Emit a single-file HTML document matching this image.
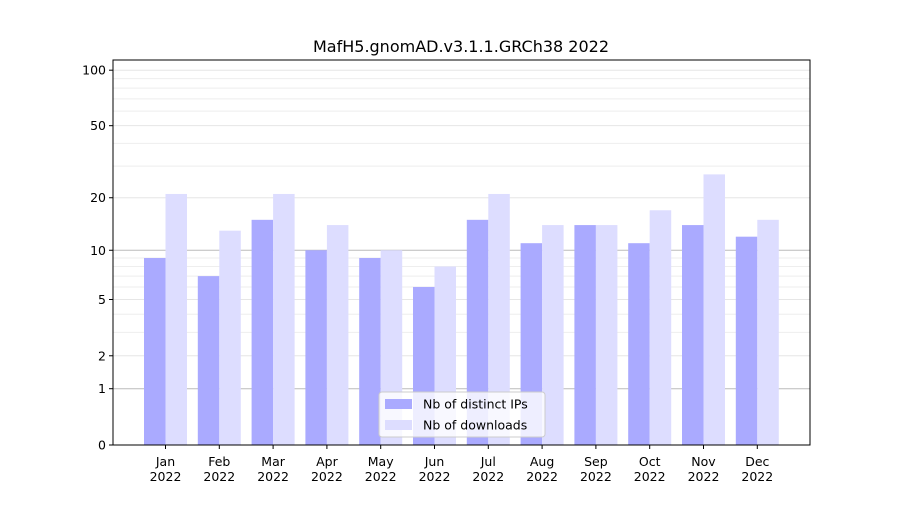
<!DOCTYPE html>
<html><head><meta charset="utf-8"><style>
body{margin:0;background:#fff}
svg{font-family:"DejaVu Sans","Liberation Sans",sans-serif}
</style></head><body>
<svg id="chart" width="900" height="500">
<rect width="900" height="500" fill="#fff"/>
<text x="461" y="52" text-anchor="middle" font-size="16">MafH5.gnomAD.v3.1.1.GRCh38 2022</text>
<g id="grid"></g><g id="bars"></g><g id="axes"></g>
</svg>
<script>
const months=["Jan","Feb","Mar","Apr","May","Jun","Jul","Aug","Sep","Oct","Nov","Dec"];
const ips=[9,7,15,10,9,6,15,11,14,11,14,12];
const downloads=[21,13,21,14,10,8,21,14,14,17,27,15];
const majorTicks=[0,1,2,5,10,20,50,100];
const minorTicks=[3,4,6,7,8,9,30,40,60,70,80,90];
const NS="http://www.w3.org/2000/svg";
const L=113,R=810,T=60,B=445;
function y(v){return B-187*Math.log10(1+v);}
function xc(i){return 165.5+i*53.8;}
function mk(t,a,p){const e=document.createElementNS(NS,t);for(const k in a)e.setAttribute(k,a[k]);p.appendChild(e);return e;}
const grid=document.getElementById('grid'),bars=document.getElementById('bars'),axes=document.getElementById('axes');
minorTicks.forEach(v=>{const l=mk('line',{x1:L,x2:R,y1:y(v),y2:y(v),stroke:'#eee','stroke-width':1},grid);

});
majorTicks.forEach(v=>{const c=(v===1||v===10)?'#bbb':'#e6e6e6';
const l=mk('line',{x1:L,x2:R,y1:y(v),y2:y(v),stroke:c,'stroke-width':1},grid);


const t=mk('line',{x1:L-4,x2:L,y1:y(v),y2:y(v),stroke:'#000'},axes);


const tx=mk('text',{x:L-7,y:y(v)+4.5,'text-anchor':'end','font-size':12.5},axes);tx.textContent=v;

});
months.forEach((m,i)=>{const c=xc(i),w=21.5;
const b1=mk('rect',{x:c-w,y:y(ips[i]),width:w,height:B-y(ips[i]),fill:'#aaaaff'},bars);


const b2=mk('rect',{x:c,y:y(downloads[i]),width:w,height:B-y(downloads[i]),fill:'#ddddff'},bars);


const t=mk('line',{x1:c,x2:c,y1:B,y2:B+4,stroke:'#000'},axes);


const tx=mk('text',{x:c,y:B+21,'text-anchor':'middle','font-size':12.5},axes);


const s1=mk('tspan',{x:c},tx);s1.textContent=m;
const s2=mk('tspan',{x:c,dy:15},tx);s2.textContent='2022';});
const fr=mk('rect',{x:L,y:T,width:R-L,height:B-T,fill:'none',stroke:'#000'},axes);


const lg=mk('g',{},axes);


mk('rect',{x:379,y:392,width:166,height:45,rx:3,fill:'#fff','fill-opacity':0.8,stroke:'#ccc'},lg);
mk('rect',{x:385,y:399,width:27,height:10,fill:'#aaaaff'},lg);
mk('rect',{x:385,y:420,width:27,height:10,fill:'#ddddff'},lg);
const l1=mk('text',{x:423,y:408.5,'font-size':12.5},lg);l1.textContent='Nb of distinct IPs';


const l2=mk('text',{x:423,y:429.5,'font-size':12.5},lg);l2.textContent='Nb of downloads';


</script>
</body></html>
